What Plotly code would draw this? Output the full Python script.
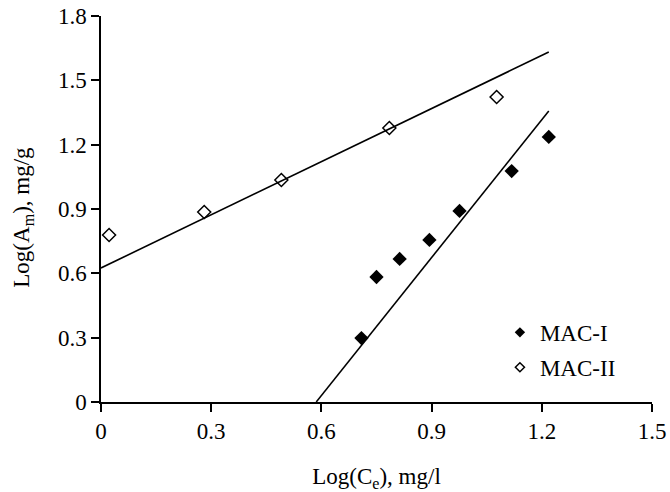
import plotly.graph_objects as go

# MAC-I data (filled diamonds)
mac1_x = [0.709, 0.750, 0.813, 0.894, 0.976, 1.118, 1.219]
mac1_y = [0.298, 0.583, 0.667, 0.756, 0.891, 1.077, 1.236]
# MAC-II data (open diamonds)
mac2_x = [0.022, 0.281, 0.491, 0.785, 1.077]
mac2_y = [0.779, 0.886, 1.035, 1.278, 1.422]

# Trend lines (slope, intercept, x extent)
mac1_slope, mac1_intercept = 2.144, -1.256
mac1_xrange = [0.586, 1.219]
mac2_slope, mac2_intercept = 0.826, 0.625
mac2_xrange = [0.0, 1.219]

x_ticks = [0, 0.3, 0.6, 0.9, 1.2, 1.5]
x_ticklabels = ["0", "0.3", "0.6", "0.9", "1.2", "1.5"]
y_ticks = [0, 0.3, 0.6, 0.9, 1.2, 1.5, 1.8]
y_ticklabels = ["0", "0.3", "0.6", "0.9", "1.2", "1.5", "1.8"]

FONT = "Liberation Serif, Times New Roman, serif"

fig = go.Figure()

fig.add_trace(go.Scatter(
    x=mac1_xrange, y=[mac1_slope * v + mac1_intercept for v in mac1_xrange],
    mode="lines", line=dict(color="black", width=1.6), showlegend=False,
    hoverinfo="skip"))
fig.add_trace(go.Scatter(
    x=mac2_xrange, y=[mac2_slope * v + mac2_intercept for v in mac2_xrange],
    mode="lines", line=dict(color="black", width=1.6), showlegend=False,
    hoverinfo="skip"))

fig.add_trace(go.Scatter(
    x=mac1_x, y=mac1_y, mode="markers", name="MAC-I", showlegend=False,
    legendgroup="g1",
    marker=dict(symbol="diamond", size=11, color="black",
                line=dict(color="black", width=0))))
fig.add_trace(go.Scatter(
    x=mac2_x, y=mac2_y, mode="markers", name="MAC-II", showlegend=False,
    legendgroup="g2",
    marker=dict(symbol="diamond-open", size=10, color="black",
                line=dict(color="black", width=1.5))))

# legend entries (smaller symbols, as in the reference legend)
fig.add_trace(go.Scatter(
    x=[None], y=[None], mode="markers", name="MAC-I", legendgroup="g1",
    marker=dict(symbol="diamond", size=8, color="black",
                line=dict(color="black", width=0))))
fig.add_trace(go.Scatter(
    x=[None], y=[None], mode="markers", name="MAC-II", legendgroup="g2",
    marker=dict(symbol="diamond-open", size=7, color="black",
                line=dict(color="black", width=1.5))))

fig.update_layout(
    width=670, height=492,
    margin=dict(l=101, r=18, t=16, b=90),
    paper_bgcolor="white", plot_bgcolor="white",
    font=dict(family=FONT, size=23, color="black"),
    showlegend=True,
    legend=dict(x=0.724, y=0.135, xanchor="left", yanchor="middle",
                bgcolor="rgba(0,0,0,0)", font=dict(family=FONT, size=23),
                itemsizing="trace", tracegroupgap=2),
    xaxis=dict(range=[0, 1.5], tickvals=x_ticks, ticktext=x_ticklabels,
               showline=True, linecolor="black", linewidth=1.5,
               ticks="outside", ticklen=8, tickwidth=1.5, tickcolor="black",
               showgrid=False, zeroline=False, automargin=False,
               title=dict(text="Log(C<sub>e</sub>), mg/l", font=dict(size=23),
                          standoff=33)),
    yaxis=dict(range=[0, 1.8], tickvals=y_ticks, ticktext=y_ticklabels,
               showline=True, linecolor="black", linewidth=1.5,
               ticks="outside", ticklen=8, tickwidth=1.5, tickcolor="black",
               showgrid=False, zeroline=False, automargin=False),
    annotations=[dict(text="Log(A<sub>m</sub>), mg/g", xref="paper",
                      yref="paper", x=-0.1416, y=0.48, textangle=-90,
                      showarrow=False, xanchor="center", yanchor="middle",
                      font=dict(family=FONT, size=23, color="black"))],
)

fig.write_html("out.html")
